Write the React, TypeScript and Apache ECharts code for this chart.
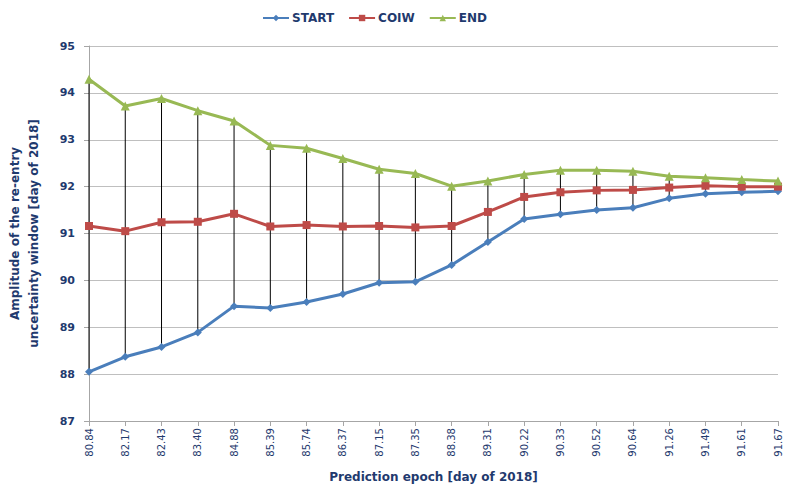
import React, { useEffect, useRef } from "react";
import * as echarts from "echarts";

const categories = ["80.84","82.17","82.43","83.40","84.88","85.39","85.74","86.37","87.15","87.35","88.38","89.31","90.22","90.33","90.52","90.64","91.26","91.49","91.61","91.67"];
const startValues = [88.05,88.37,88.58,88.89,89.45,89.41,89.54,89.71,89.95,89.97,90.33,90.82,91.31,91.41,91.5,91.55,91.75,91.85,91.88,91.9];
const coiwValues = [91.16,91.05,91.24,91.25,91.42,91.15,91.18,91.15,91.16,91.13,91.16,91.46,91.78,91.88,91.92,91.93,91.98,92.02,92.0,92.0];
const endValues = [94.29,93.72,93.88,93.62,93.4,92.88,92.82,92.6,92.37,92.28,92.01,92.12,92.26,92.35,92.35,92.33,92.22,92.19,92.15,92.12];

const NAVY = "#1F3A6E";
const FONT = "DejaVu Sans";

export default function App() {
  const ref = useRef<HTMLDivElement>(null);
  useEffect(() => {
    if (!ref.current) return;
    const chart = echarts.init(ref.current, null, { renderer: "svg" });
    const rangeData = categories.map((_, i) => [i, startValues[i], endValues[i]]);
    chart.setOption({
      animation: false,
      backgroundColor: "#fff",
      textStyle: { fontFamily: FONT },
      legend: {
        top: 7,
        left: 257,
        itemGap: 14,
        itemWidth: 26,
        itemHeight: 8,
        data: ["START", "COIW", "END"],
        textStyle: { color: NAVY, fontWeight: "bold", fontSize: 12, fontFamily: FONT, padding: [0, 0, 0, -2] },
      },
      grid: { left: 89, right: 8, top: 46, bottom: 65, containLabel: false, outerBoundsMode: "none" },
      xAxis: {
        type: "category",
        data: categories,
        boundaryGap: false,
        name: "Prediction epoch [day of 2018]",
        nameLocation: "middle",
        nameGap: 50,
        nameTextStyle: { color: NAVY, fontWeight: "bold", fontSize: 12, fontFamily: FONT },
        axisLine: { lineStyle: { color: "#a6a6a6" } },
        axisTick: { show: true, alignWithLabel: true, length: 5, lineStyle: { color: "#a6a6a6" } },
        axisLabel: { rotate: 90, color: NAVY, fontSize: 10, fontFamily: FONT, margin: 7 },
        splitLine: { show: false },
      },
      yAxis: {
        type: "value",
        min: 87,
        max: 95,
        interval: 1,
        name: "Amplitude of the re-entry\nuncertainty window [day of 2018]",
        nameLocation: "middle",
        nameRotate: 90,
        nameGap: 46,
        nameTextStyle: { color: NAVY, fontWeight: "bold", fontSize: 12, fontFamily: FONT, lineHeight: 19 },
        axisLine: { show: true, lineStyle: { color: "#a6a6a6" } },
        axisTick: { show: true, length: 5, lineStyle: { color: "#a6a6a6" } },
        axisLabel: { color: NAVY, fontWeight: "bold", fontSize: 11, fontFamily: FONT, margin: 14 },
        splitLine: { lineStyle: { color: "#bfbfbf", width: 1 } },
      },
      series: [
        {
          type: "custom",
          name: "range",
          silent: true,
          z: 1,
          data: rangeData,
          renderItem: (params: any, api: any) => {
            const p1 = api.coord([api.value(0), api.value(1)]);
            const p2 = api.coord([api.value(0), api.value(2)]);
            return {
              type: "line",
              shape: { x1: p1[0], y1: p1[1], x2: p2[0], y2: p2[1] },
              style: { stroke: "#000", lineWidth: 1 },
            };
          },
        },
        {
          name: "START",
          type: "line",
          data: startValues,
          symbol: "diamond",
          symbolSize: 8,
          z: 3,
          lineStyle: { color: "#4A7EBB", width: 3 },
          itemStyle: { color: "#4A7EBB" },
        },
        {
          name: "COIW",
          type: "line",
          data: coiwValues,
          symbol: "rect",
          symbolSize: 8,
          z: 3,
          lineStyle: { color: "#BE4B48", width: 3 },
          itemStyle: { color: "#BE4B48" },
        },
        {
          name: "END",
          type: "line",
          data: endValues,
          symbol: "triangle",
          symbolSize: 9,
          z: 3,
          lineStyle: { color: "#98B954", width: 3 },
          itemStyle: { color: "#98B954" },
        },
      ],
    });
    return () => chart.dispose();
  }, []);
  return <div ref={ref} style={{ position: "fixed", left: 0, top: 0, width: 786, height: 486 }} />;
}
